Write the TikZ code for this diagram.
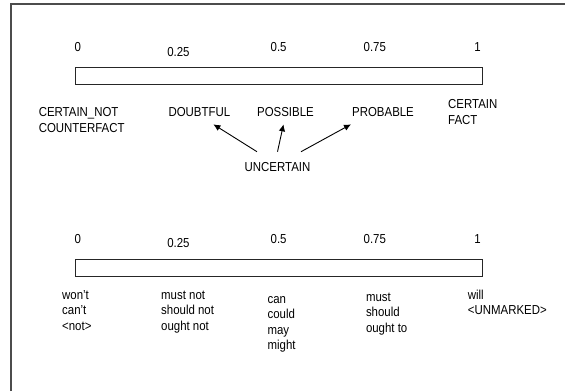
\documentclass[tikz,border=0pt]{standalone}
\usepackage{fontspec}
\setmainfont{Liberation Sans}[FakeStretch=0.88]
\usetikzlibrary{positioning,arrows.meta}

\tikzset{
  lbl/.style={inner sep=0pt, font=\fontsize{13}{15.5}\selectfont, align=left},
  tick/.style={lbl, anchor=base},
  scalebar/.style={draw=black!85, line width=0.9pt, minimum width=407pt, minimum height=16.5pt, inner sep=0pt, anchor=north west},
  pointer/.style={-{Latex[length=7pt,width=6.5pt]}, line width=0.9pt}
}

\begin{document}
\begin{tikzpicture}[x=1pt, y=-1pt]
\useasboundingbox (0,0) rectangle (565,391);
\draw[black!70, line width=1.4pt] (11,391) -- (11,4) -- (565,4);

% upper scale
\node[tick] (a0) at (77.8,51) {0};
\node[tick] (a25) at (178.4,56) {0.25};
\node[tick] (a50) at (278.6,51) {0.5};
\node[tick] (a75) at (374.8,51) {0.75};
\node[tick] (a100) at (477.5,51) {1};
\node[scalebar] (bar1) at (74.6,67) {};

% multi-line labels sit on the baseline of their last line
\node[lbl, anchor=base west] (cnot) at (38.6,132) {CERTAIN\_NOT\\COUNTERFACT};
\node[lbl, anchor=base west] (doubt) at (168.3,116) {DOUBTFUL};
\node[lbl, anchor=base west] (poss) at (257,116) {POSSIBLE};
\node[lbl, anchor=base west] (prob) at (352,116) {PROBABLE};
\node[lbl, anchor=base west] (cfact) at (448,124) {CERTAIN\\FACT};
\node[lbl, anchor=base] (unc) at (277.5,171) {UNCERTAIN};

\draw[pointer] ([xshift=-20.5pt, yshift=10pt]unc.north) -- ([xshift=-17pt, yshift=-8pt]doubt.south east);
\draw[pointer] ([yshift=10pt]unc.north) -- ([xshift=-2pt, yshift=-8pt]poss.south);
\draw[pointer] ([xshift=23.5pt, yshift=10pt]unc.north) -- ([xshift=-1pt, yshift=-8pt]prob.south west);

% lower scale
\node[tick] (b0) at (77.8,243) {0};
\node[tick] (b25) at (178.4,247) {0.25};
\node[tick] (b50) at (278.6,243) {0.5};
\node[tick] (b75) at (374.8,243) {0.75};
\node[tick] (b100) at (477.5,243) {1};
\node[scalebar] (bar2) at (74.6,259) {};

\node[lbl, anchor=base west] (neg) at (62,330) {won't\\can't\\<not>};
\node[lbl, anchor=base west] (mustnot) at (161,330) {must not\\should not\\ought not};
\node[lbl, anchor=base west] (can) at (267.4,349.5) {can\\could\\may\\might};
\node[lbl, anchor=base west] (must) at (365.8,332) {must\\should\\ought to};
\node[lbl, anchor=base west] (will) at (467.7,314.5) {will\\<UNMARKED>};
\end{tikzpicture}
\end{document}
